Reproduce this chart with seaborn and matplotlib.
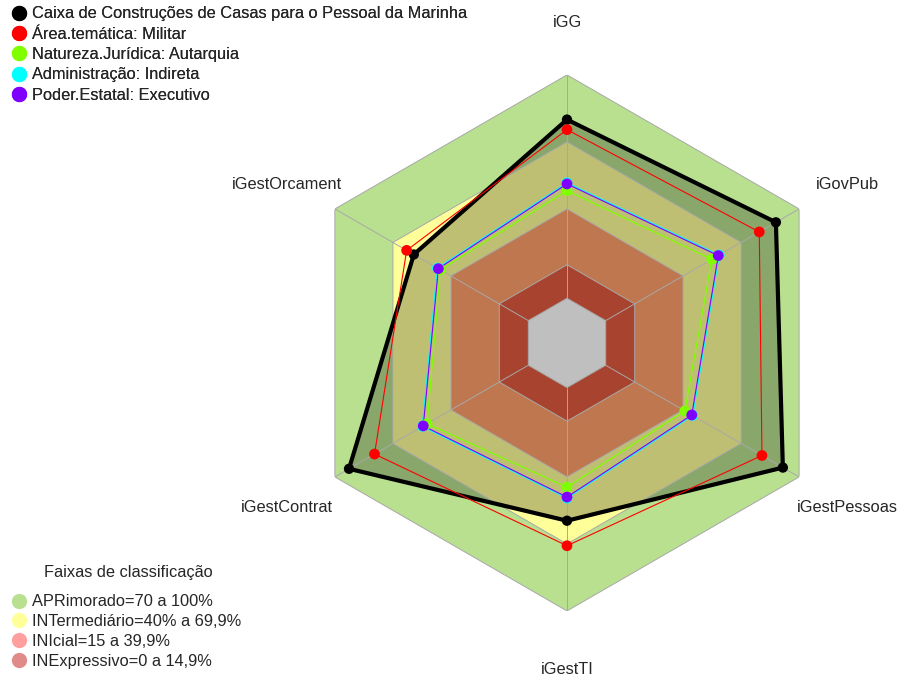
#! /usr/bin/env python
"""
Radar chart: indicadores de governanca da Caixa de Construcoes de Casas
para o Pessoal da Marinha comparados com os grupos de referencia
"""

import numpy as np
import pandas as pd
import seaborn as sns
import matplotlib.pyplot as plt
from matplotlib.lines import Line2D
from matplotlib.transforms import offset_copy

# eixos do radar (sentido horario a partir do topo)
indicadores = ["iGG", "iGovPub", "iGestPessoas", "iGestTI", "iGestContrat", "iGestOrcament"]

# series (valores em %)
series_nomes = [
    "Caixa de Construções de Casas para o Pessoal da Marinha",
    "Área.temática: Militar",
    "Natureza.Jurídica: Autarquia",
    "Administração: Indireta",
    "Poder.Estatal: Executivo",
]
caixa = [80.0, 88.0, 91.6, 59.6, 92.7, 59.2]
militar = [75.5, 79.4, 80.8, 70.8, 79.5, 62.9]
autarquia = [48.2, 54.9, 40.9, 44.6, 52.3, 45.5]
indireta = [51.7, 58.7, 45.0, 49.5, 54.8, 47.0]
executivo = [51.2, 58.2, 44.5, 49.0, 54.3, 46.5]
series_cores = ["#000000", "#ff0000", "#80ff00", "#00ffff", "#8000ff"]

# faixas de classificacao
faixas_titulo = "Faixas de classificação"
faixas_nomes = [
    "APRimorado=70 a 100%",
    "INTermediário=40% a 69,9%",
    "INIcial=15 a 39,9%",
    "INExpressivo=0 a 14,9%",
]
faixas_limites = [100, 70, 40, 15]
faixas_cores = ["#b8e08f", "#ffff9a", "#ffa06a", "#e05a3e"]
faixas_legenda = ["#b8e08f", "#ffff99", "#ff9f9f", "#e08a8a"]

FS = 11.8


def fechar(valores):
    return list(valores) + [valores[0]]


def run() -> None:
    sns.set_style("white")
    plt.rcParams["font.family"] = ["Liberation Sans", "DejaVu Sans"]

    n = len(indicadores)
    theta = np.linspace(0, 2 * np.pi, n, endpoint=False)
    theta_c = fechar(theta)

    fig = plt.figure(figsize=(9, 6.76), dpi=100)
    ax = fig.add_axes([0.3322, 0.0962, 0.5956, 0.793], projection="polar")
    ax.set_theta_zero_location("N")
    ax.set_theta_direction(-1)
    ax.set_ylim(-20, 100)
    ax.axis("off")

    # faixas (hexagonos empilhados)
    for lim, cor in zip(faixas_limites, faixas_cores):
        ax.fill(theta_c, [lim] * (n + 1), color=cor, lw=0, zorder=1)
    ax.fill(theta_c, [0] * (n + 1), color="white", lw=0, zorder=1)

    # preenchimento da serie principal
    ax.fill(theta_c, fechar(caixa), color="black", alpha=0.25, lw=0, zorder=2)

    # grade
    for lim in [0] + faixas_limites:
        ax.plot(theta_c, [lim] * (n + 1), color="#a8a8a8", lw=0.7, zorder=3)
    for t in theta:
        ax.plot([t, t], [0, 100], color="#a8a8a8", lw=0.7, zorder=3)

    df = pd.DataFrame(
        {
            "indicador": indicadores * 5,
            "theta": list(theta) * 5,
            "valor": caixa + militar + autarquia + indireta + executivo,
            "serie": [s for s in series_nomes for _ in indicadores],
        }
    )

    larguras = [3.0, 0.8, 0.9, 0.9, 0.8]
    for i, (nome, cor) in enumerate(zip(series_nomes, series_cores)):
        sub = df[df["serie"] == nome]
        ax.plot(theta_c, fechar(sub["valor"].tolist()), color=cor, lw=larguras[i], zorder=4 + i)
    for i, (nome, cor) in enumerate(zip(series_nomes, series_cores)):
        sub = df[df["serie"] == nome]
        sns.scatterplot(
            data=sub, x="theta", y="valor", color=cor, s=60 if i else 55,
            edgecolor="none", ax=ax, zorder=10 + i, legend=False,
        )
    ax.set_ylim(-20, 100)

    # rotulos dos eixos
    trans = offset_copy(ax.transData, fig=fig, y=-3, units="dots")
    for t, rot in zip(theta, indicadores):
        ax.text(t, 125, rot, ha="center", va="center", fontsize=FS, transform=trans)

    h1 = [
        Line2D([], [], marker="o", ls="none", ms=11, color=c, markeredgewidth=0)
        for c in series_cores
    ]
    leg1 = fig.legend(
        h1, series_nomes, loc="upper left", bbox_to_anchor=(0.006, 0.998),
        frameon=False, fontsize=FS, handlelength=1.0, handletextpad=0.35,
        labelspacing=0.33, borderaxespad=0.0, borderpad=0.3,
    )
    h2 = [
        Line2D([], [], marker="o", ls="none", ms=11, color=c, markeredgewidth=0)
        for c in faixas_legenda
    ]
    fig.legend(
        h2, faixas_nomes, loc="lower left", bbox_to_anchor=(0.006, 0.003),
        frameon=False, fontsize=FS, handlelength=1.0, handletextpad=0.35,
        labelspacing=0.3, borderaxespad=0.0, borderpad=0.3,
    )
    fig.add_artist(leg1)
    fig.text(128 / 900, 1 - 573 / 676, faixas_titulo, ha="center", va="center", fontsize=FS)

    fig.savefig("out.png", dpi=100)


if __name__ == "__main__":
    run()
